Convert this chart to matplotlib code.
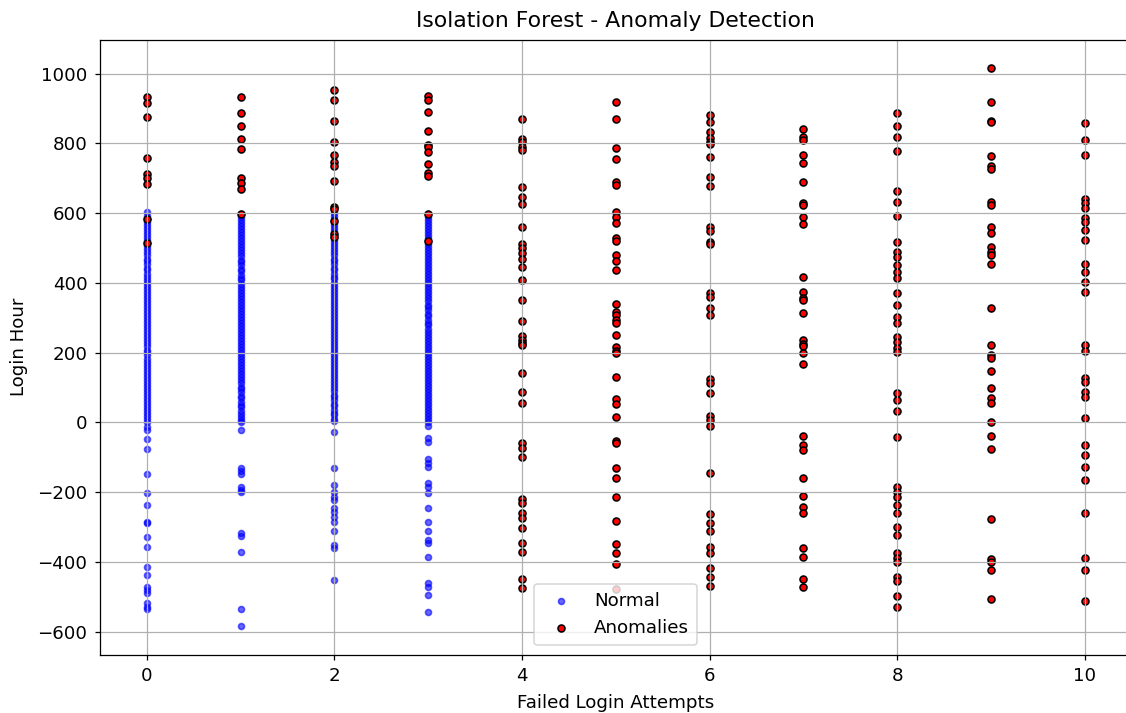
import matplotlib
matplotlib.use("Agg")
import matplotlib.pyplot as plt
import numpy as np

# ---- Normal points (blue) : login hour values per failed-attempt count ----
normal_0 = [2, 9, 18, 27, 35, 44, 53, 61, 70, 79, 88, 96, 105, 113, 122, 131, 140, 148, 157,
            166, 174, 183, 192, 201, 209, 218, 227, 235, 244, 253, 261, 270, 279, 288, 296,
            305, 314, 322, 331, 340, 349, 357, 366, 375, 383, 392, 401, 409, 418, 427, 436,
            444, 453, 462, 470, 479, 488, 497, 505, 514, 523, 531, 540, 549, 557, 566, 575,
            584, 592, 602,
            -14, -23, -47, -76, -149, -203, -237, -284, -287, -329, -358, -413, -438, -471,
            -480, -488, -518, -528, -536]
normal_1 = [1, 8, 17, 25, 34, 43, 51, 60, 69, 77, 86, 95, 103, 112, 121, 129, 138, 147, 155,
            164, 173, 181, 190, 199, 207, 216, 225, 233, 242, 251, 259, 268, 277, 285, 294,
            303, 311, 320, 329, 337, 346, 355, 363, 372, 381, 389, 398, 407, 415, 424, 433,
            441, 450, 459, 467, 476, 485, 493, 502, 511, 519, 528, 537, 545, 554, 563, 571,
            580, 589, 597,
            -23, -130, -139, -149, -184, -194, -198, -316, -325, -372, -536, -585]
normal_2 = [3, 11, 20, 28, 37, 46, 54, 63, 72, 80, 89, 98, 106, 115, 124, 132, 141, 150, 158,
            167, 176, 184, 193, 202, 210, 219, 228, 236, 245, 254, 262, 271, 280, 288, 297,
            306, 314, 323, 332, 340, 349, 358, 366, 375, 384, 392, 401, 410, 418, 427, 436,
            444, 453, 462, 470, 479, 488, 496, 505, 514, 522, 531, 540, 548, 557, 566, 574,
            583, 592, 600,
            -26, -130, -179, -198, -213, -222, -246, -256, -270, -284, -310, -351, -361, -452]
normal_3 = [1, 9, 18, 26, 35, 44, 52, 61, 70, 78, 87, 96, 104, 113, 122, 130, 139, 148, 156,
            165, 174, 182, 191, 200, 208, 217, 226, 234, 243, 252, 260, 269, 278, 286, 295,
            304, 312, 321, 330, 338, 347, 356, 364, 373, 382, 390, 399, 408, 416, 425, 434,
            442, 451, 460, 468, 477, 486, 494, 503, 512, 520, 529, 538, 546, 555, 564, 572,
            581, 590, 598,
            -10, -45, -55, -106, -115, -127, -173, -184, -203, -246, -284, -310, -337, -345,
            -387, -461, -471, -495, -543]

# ---- Anomalies (red) ----
anom_0 = [934, 915, 875, 758, 712, 700, 684, 583, 514]
anom_1 = [934, 887, 851, 812, 784, 700, 686, 670, 597]
anom_2 = [953, 925, 865, 805, 767, 748, 735, 693, 619, 611, 578, 540, 533]
anom_3 = [936, 925, 889, 835, 796, 789, 776, 741, 716, 708, 598, 520]
anom_4 = [869, 813, 805, 791, 781, 676, 646, 627, 560, 512, 499, 485, 468, 445, 409, 351,
          291, 248, 237, 227, 222, 141, 87, 55, -60, -74, -100, -220, -232, -260, -275,
          -302, -346, -372, -450, -475]
anom_5 = [918, 870, 786, 755, 688, 681, 604, 590, 573, 528, 520, 480, 464, 437, 339, 318,
          308, 294, 286, 251, 216, 206, 198, 131, 67, 53, 17, -53, -60, -131, -158, -214,
          -282, -348, -375, -406, -478]
anom_6 = [882, 862, 834, 815, 805, 799, 762, 705, 678, 561, 550, 518, 512, 370, 361, 329,
          308, 124, 112, 85, 19, 7, -10, -146, -262, -289, -310, -356, -375, -418, -442, -469]
anom_7 = [841, 818, 810, 767, 743, 690, 629, 624, 590, 569, 418, 375, 356, 351, 315, 237,
          225, 219, 198, 168, -39, -65, -79, -158, -211, -241, -259, -361, -385, -450, -473]
anom_8 = [887, 851, 819, 778, 665, 633, 592, 518, 490, 475, 452, 430, 413, 372, 337, 303,
          284, 246, 232, 213, 203, 84, 65, 34, -41, -184, -198, -213, -237, -260, -299,
          -323, -375, -389, -399, -442, -456, -499, -530]
anom_9 = [1016, 918, 864, 860, 765, 735, 726, 633, 624, 560, 543, 504, 490, 480, 454, 327,
          222, 194, 184, 148, 98, 69, 55, 0, -38, -76, -278, -392, -399, -423, -507]
anom_10 = [858, 810, 767, 640, 629, 614, 585, 576, 552, 523, 454, 430, 402, 373, 222, 206,
           127, 117, 88, 74, 14, -65, -93, -128, -165, -259, -389, -423, -512]

normal_cols = [normal_0, normal_1, normal_2, normal_3]
anom_cols = [anom_0, anom_1, anom_2, anom_3, anom_4, anom_5, anom_6, anom_7, anom_8,
             anom_9, anom_10]

nx = np.concatenate([[i] * len(c) for i, c in enumerate(normal_cols)])
ny = np.concatenate(normal_cols)
ax_ = np.concatenate([[i] * len(c) for i, c in enumerate(anom_cols)])
ay = np.concatenate(anom_cols)

DPI = 112.6
plt.rcParams["font.size"] = 11.7
plt.rcParams["xtick.labelsize"] = 11.7
plt.rcParams["ytick.labelsize"] = 11.7
plt.rcParams["xtick.major.pad"] = 4.5
plt.rcParams["ytick.major.pad"] = 4.5

fig = plt.figure(figsize=(1126 / DPI, 713 / DPI), dpi=DPI)
W, H = 1126, 713
left, right, top, bottom = 100, 1131.5, 40, 654.5
ax = fig.add_axes([left / W, 1 - bottom / H, (right - left) / W, (bottom - top) / H])

ax.scatter(nx, ny, c="blue", alpha=0.6, s=15, label="Normal")
ax.scatter(ax_, ay, c="red", edgecolors="black", s=20, label="Anomalies")

ax.set_xlim(-0.5, 10.5)
ax.set_ylim(-665.3, 1096.5)
ax.set_xticks([0, 2, 4, 6, 8, 10])
ax.set_yticks([-600, -400, -200, 0, 200, 400, 600, 800, 1000])
ax.set_title("Isolation Forest - Anomaly Detection", fontsize=14, pad=8)
ax.set_xlabel("Failed Login Attempts", labelpad=6)
ax.set_ylabel("Login Hour", labelpad=6)
ax.grid(True)
ax.legend(loc="lower center", borderpad=0.45, fontsize=11.7)

fig.savefig("out.png", dpi=DPI)
